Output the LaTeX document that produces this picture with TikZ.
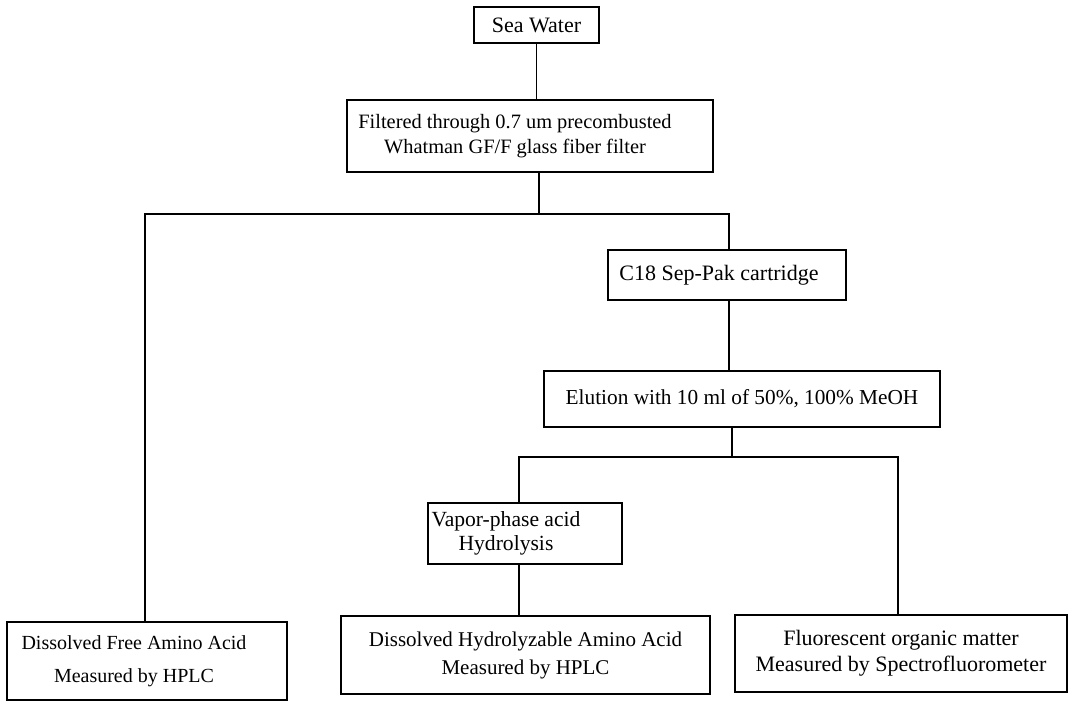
\documentclass[tikz,border=0pt]{standalone}
\usepackage{fontspec}
\setmainfont{Liberation Serif}
\usetikzlibrary{positioning, calc}

\tikzset{
  box/.style={draw, line width=1.5pt, inner sep=0pt, align=center,
    font=\fontsize{21}{26}\selectfont},
  link/.style={line width=1.5pt},
}

\begin{document}
\begin{tikzpicture}[x=1pt, y=-1pt]
  \useasboundingbox (0,0) rectangle (1068,703);

  % top of the scheme
  \node[box, minimum width=125pt, minimum height=36pt, font=\fontsize{22}{26}\selectfont] (sea) at (536.5,25) {Sea Water};
  \node[box, minimum width=366pt, minimum height=72pt, font=\fontsize{20.4}{25}\selectfont] (filt) at (530,136)
    {Filtered through 0.7 um precombusted\hspace*{30pt}\\Whatman GF/F glass fiber filter\hspace*{30pt}};

  % right branch
  \node[box, minimum width=238pt, minimum height=50pt, font=\fontsize{22}{26}\selectfont] (c18) at (727,275)
    {C18 Sep-Pak cartridge\hspace*{16pt}};
  \node[box, minimum width=396pt, minimum height=56pt, font=\fontsize{21.3}{26}\selectfont] (elu) at (742,399)
    {Elution with 10 ml of 50\%, 100\% MeOH};
  \node[box, minimum width=194pt, minimum height=61pt, font=\fontsize{21.6}{24}\selectfont] (vap) at (525,533.5)
    {Vapor-phase acid\hspace*{38pt}\\Hydrolysis\hspace*{38pt}};

  % results
  \node[box, minimum width=280pt, minimum height=78pt, font=\fontsize{20}{33}\selectfont] (dfaa) at (147,661)
    {Dissolved Free Amino Acid\hspace*{26pt}\\Measured by HPLC\hspace*{26pt}};
  \node[box, minimum width=369pt, minimum height=78pt, font=\fontsize{21}{28}\selectfont] (dhaa) at (525.5,655)
    {Dissolved Hydrolyzable Amino Acid\\Measured by HPLC};
  \node[box, minimum width=332pt, minimum height=77pt, font=\fontsize{22}{26}\selectfont] (fom) at (901,653.5)
    {Fluorescent organic matter\\Measured by Spectrofluorometer};

  % junctions
  \coordinate (ja) at (539,214);
  \coordinate (jal) at (145,214);
  \coordinate (jar) at (729,214);
  \coordinate (jb) at (732,457);
  \coordinate (jbl) at (519,457);
  \coordinate (jbr) at (898,457);

  \draw[link] (sea.south) -- (sea.south |- filt.north);
  \draw[link] (ja |- filt.south) -- (ja);
  \draw[link] (jal |- dfaa.north) -- (jal) -- (jar) -- (jar |- c18.north);
  \draw[link] (jar |- c18.south) -- (jar |- elu.north);
  \draw[link] (jb |- elu.south) -- (jb);
  \draw[link] (jbl |- vap.north) -- (jbl) -- (jbr) -- (jbr |- fom.north);
  \draw[link] (jbl |- vap.south) -- (jbl |- dhaa.north);
\end{tikzpicture}
\end{document}
